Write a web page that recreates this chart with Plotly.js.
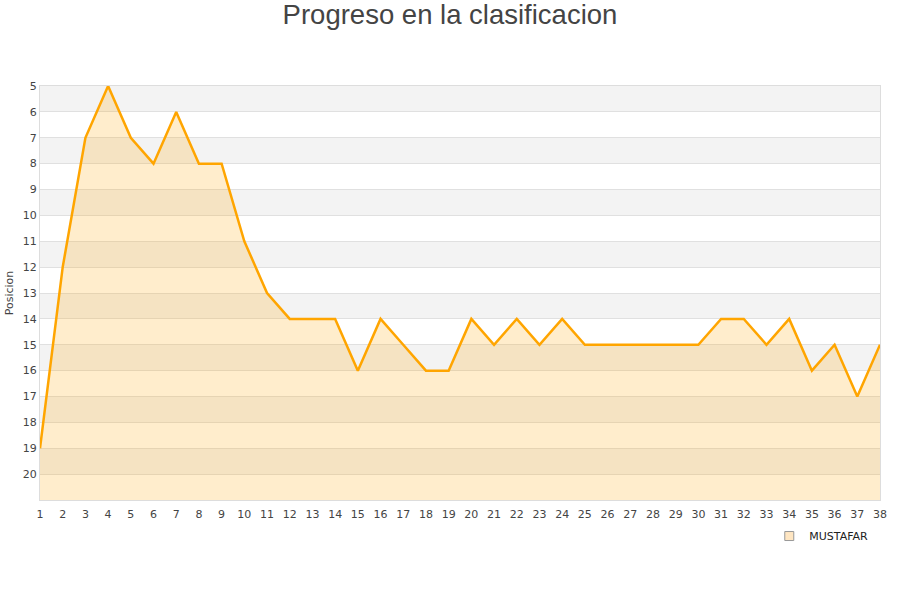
<!DOCTYPE html>
<html>
<head>
<meta charset="utf-8">
<script src="https://cdn.plot.ly/plotly-3.0.1.min.js"></script>
<style>html,body{margin:0;padding:0;background:#fff;}#chart{width:900px;height:600px;}</style>
</head>
<body>
<div id="chart"></div>
<script>
const jornadas = [1,2,3,4,5,6,7,8,9,10,11,12,13,14,15,16,17,18,19,20,21,22,23,24,25,26,27,28,29,30,31,32,33,34,35,36,37,38];
const posiciones = [19,12,7,5,7,8,6,8,8,11,13,14,14,14,16,14,15,16,16,14,15,14,15,14,15,15,15,15,15,15,14,14,15,14,16,15,17,15];
const yTicks = [5,6,7,8,9,10,11,12,13,14,15,16,17,18,19,20];
const bandStarts = [5,7,9,11,13,15,17,19];
const fondo = 21;
const equipo = 'MUSTAFAR';

const baseline = jornadas.map(() => fondo);

const shapes = bandStarts.map(s => ({
  type: 'rect', xref: 'paper', yref: 'y', x0: 0, x1: 1, y0: s, y1: s + 1,
  fillcolor: '#f3f3f3', line: {width: 0}, layer: 'below'
}));

const traces = [
  {x: jornadas, y: baseline, mode: 'lines', line: {width: 0, color: 'rgba(0,0,0,0)'}, showlegend: false, hoverinfo: 'skip'},
  {x: jornadas, y: posiciones, mode: 'lines', fill: 'tonexty', fillcolor: 'rgba(255,165,0,0.2)',
   line: {color: '#FFA500', width: 2.5}, showlegend: false, name: equipo},
  {x: [null], y: [null], mode: 'markers', name: equipo,
   marker: {symbol: 'square', size: 9, color: 'rgba(255,200,120,0.45)', line: {color: '#999', width: 1}}}
];

const layout = {
  width: 900, height: 600,
  margin: {l: 40, r: 20, t: 86, b: 100},
  paper_bgcolor: '#fff', plot_bgcolor: '#fff',
  title: {text: 'Progreso en la clasificacion', x: 0.5, xanchor: 'center', y: 0.992, yanchor: 'top',
          font: {family: 'Liberation Sans, Arial, sans-serif', size: 27.5, color: '#444'}},
  font: {family: 'DejaVu Sans, sans-serif', size: 11, color: '#444'},
  xaxis: {range: [1, 38], tickmode: 'array', tickvals: jornadas, ticktext: jornadas.map(String),
          showgrid: false, zeroline: false, showline: true, mirror: true, linecolor: '#ddd', linewidth: 1,
          ticks: 'outside', ticklen: 4, tickcolor: 'rgba(0,0,0,0)', tickfont: {size: 11, color: '#444'}},
  yaxis: {range: [21, 5], tickmode: 'array', tickvals: yTicks, ticktext: yTicks.map(String),
          showgrid: true, gridcolor: '#e0e0e0', zeroline: false, showline: true, mirror: true,
          linecolor: '#ddd', linewidth: 1, ticks: '', tickfont: {size: 11, color: '#444'},
          title: {text: 'Posicion', font: {size: 11, color: '#444'}, standoff: 6}},
  shapes: shapes,
  showlegend: true,
  legend: {orientation: 'h', x: 0.992, xanchor: 'right', y: -0.052, yanchor: 'top',
           font: {size: 11, color: '#222'}, bgcolor: 'rgba(0,0,0,0)'}
};

Plotly.newPlot('chart', traces, layout, {displayModeBar: false, staticPlot: true});
</script>
</body>
</html>
